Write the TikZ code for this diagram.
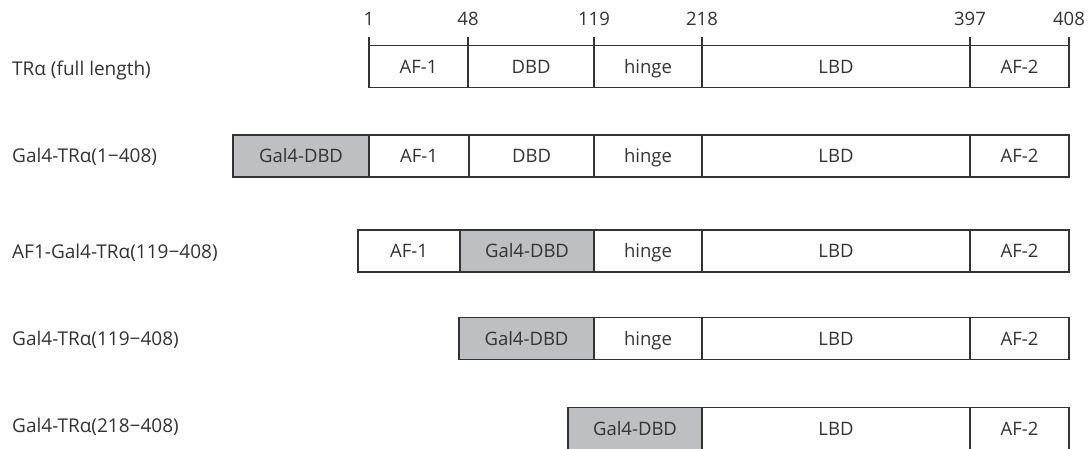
\documentclass[tikz,border=0pt]{standalone}
\usepackage{fontspec}
\setmainfont{Open Sans}
\definecolor{ink}{RGB}{51,51,51}
\definecolor{galfill}{RGB}{190,191,195}
\tikzset{
  segbox/.style={draw=ink, line width=1.3pt, inner sep=0pt, outer sep=0pt, text=ink,
    font=\fontsize{18.5}{22}\selectfont, minimum height=42pt, text depth=0pt, text height=13pt},
  gal/.style={fill=galfill},
  rowlabel/.style={anchor=base west, inner sep=0pt, text=ink, font=\fontsize{19}{22}\selectfont},
  numlabel/.style={anchor=base, inner sep=0pt, text=ink, font=\fontsize{18.5}{22}\selectfont},
  tick/.style={draw=ink, line width=1.3pt}
}
\newcommand\seg[6][]{%
  \pgfmathsetmacro\segw{#4-#3}%
  \pgfmathsetmacro\segc{(#3+#4)/2}%
  \node[segbox,#1,minimum width=\segw pt] (#2) at (\segc,#5) {#6};}
\begin{document}
\begin{tikzpicture}[x=1pt,y=-1pt]
\useasboundingbox (0,0) rectangle (1091,448);
% ruler numbers and ticks
\foreach \p/\n in {369/1,468/48,594/119,702/218,970/397,1069/408}{
  \node[numlabel] (n\n) at (\p,25) {\n};
  \draw[tick] (\p,37) -- (\p,45);
}
% row 1
\node[rowlabel] (l1) at (12,75) {TRα (full length)};
\seg{r1a}{369}{468}{66.5}{AF-1}
\seg{r1b}{468}{594}{66.5}{DBD}
\seg{r1c}{594}{702}{66.5}{hinge}
\seg{r1d}{702}{970}{66.5}{LBD}
\seg{r1e}{970}{1069}{66.5}{AF-2}
% row 2
\node[rowlabel] (l2) at (12,162) {Gal4-TRα(1−408)};
\seg[gal]{r2g}{233}{369}{156}{Gal4-DBD}
\seg{r2a}{369}{469}{156}{AF-1}
\seg{r2b}{469}{594}{156}{DBD}
\seg{r2c}{594}{702}{156}{hinge}
\seg{r2d}{702}{970}{156}{LBD}
\seg{r2e}{970}{1069}{156}{AF-2}
% row 3
\node[rowlabel] (l3) at (12,258) {AF1-Gal4-TRα(119−408)};
\seg{r3a}{358}{460}{251}{AF-1}
\seg[gal]{r3g}{460}{594}{251}{Gal4-DBD}
\seg{r3c}{594}{702}{251}{hinge}
\seg{r3d}{702}{970}{251}{LBD}
\seg{r3e}{970}{1069}{251}{AF-2}
% row 4
\node[rowlabel] (l4) at (12,345) {Gal4-TRα(119−408)};
\seg[gal]{r4g}{459}{594}{338.5}{Gal4-DBD}
\seg{r4c}{594}{702}{338.5}{hinge}
\seg{r4d}{702}{970}{338.5}{LBD}
\seg{r4e}{970}{1069}{338.5}{AF-2}
% row 5
\node[rowlabel] (l5) at (12,432) {Gal4-TRα(218−408)};
\seg[gal]{r5g}{568}{702}{428.5}{Gal4-DBD}
\seg{r5d}{702}{970}{428.5}{LBD}
\seg{r5e}{970}{1069}{428.5}{AF-2}
\end{tikzpicture}
\end{document}
